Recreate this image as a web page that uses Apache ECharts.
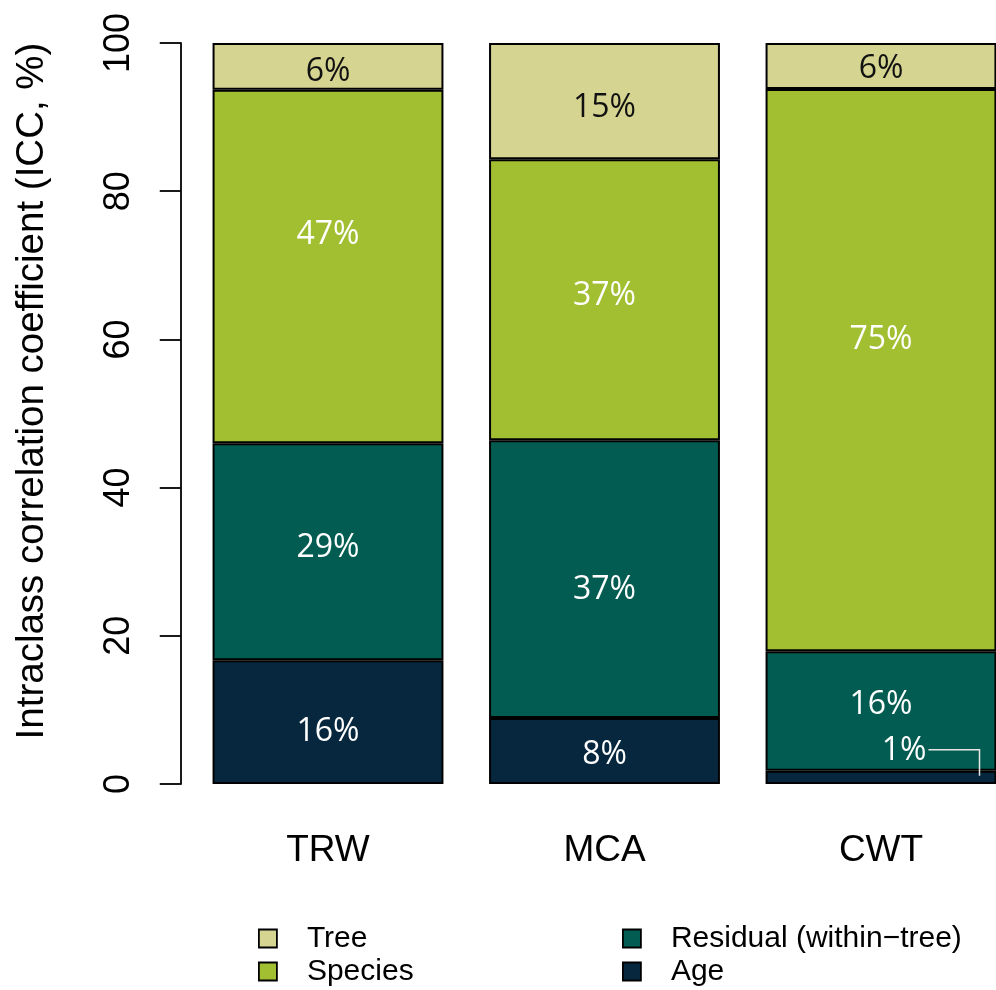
<!DOCTYPE html>
<html>
<head>
<meta charset="utf-8">
<script src="https://cdn.jsdelivr.net/npm/echarts@6/dist/echarts.min.js"></script>
<style>
  html, body { margin: 0; padding: 0; background: #ffffff; }
  #chart { width: 996px; height: 990px; }
</style>
</head>
<body>
<div id="chart"></div>
<script>
// Variance components (ICC, %) per wood trait, stacked bottom to top
const categories = ['TRW', 'MCA', 'CWT'];
const ageValues = [16.7, 8.9, 1.8];
const residualValues = [29.3, 37.5, 16.1];
const speciesValues = [47.7, 37.9, 75.9];
const treeValues = [6.3, 15.7, 6.2];
const yTicks = [0, 20, 40, 60, 80, 100];

const AXIS_FONT = 'Liberation Sans, Arial, sans-serif';
const LABEL_FONT = 'Open Sans, Noto Sans, sans-serif';

// vertical nudges (px) for the in-bar percentage labels
const labelShift = {
  Age: [10, 4, 0],
  Residual: [-4, 11, -6],
  Species: [-32, -4, -30],
  Tree: [6, 7, 3]
};

const layers = [
  { key: 'Age', name: 'Age', values: ageValues, color: '#07273e', text: '#ffffff' },
  { key: 'Residual', name: 'Residual (within\u2212tree)', values: residualValues, color: '#035c51', text: '#ffffff' },
  { key: 'Species', name: 'Species', values: speciesValues, color: '#a2bf32', text: '#ffffff' },
  { key: 'Tree', name: 'Tree', values: treeValues, color: '#d5d490', text: '#111111' }
];

const pct = v => Math.floor(v) + '%';

const series = layers.map(layer => ({
  name: layer.name,
  type: 'bar',
  stack: 'icc',
  barCategoryGap: '16.5%',
  itemStyle: { color: layer.color, borderColor: '#000000', borderWidth: 2 },
  label: {
    show: true,
    position: 'inside',
    color: layer.text,
    fontFamily: LABEL_FONT,
    fontSize: 32,
    formatter: p => pct(p.value)
  },
  emphasis: { disabled: true },
  data: layer.values.map((v, i) => {
    const item = { value: v, label: { offset: [0, labelShift[layer.key][i]] } };
    // the thin CWT age slice gets its label moved up with a leader line
    if (layer.key === 'Age' && categories[i] === 'CWT') item.label.offset = [23, -26];
    return item;
  })
}));

const legendCommon = {
  orient: 'vertical',
  top: 922,
  padding: 0,
  icon: 'rect',
  itemWidth: 18,
  itemHeight: 18,
  itemGap: 0,
  selectedMode: false,
  itemStyle: { borderColor: '#000000', borderWidth: 1.8 },
  textStyle: { fontFamily: AXIS_FONT, fontSize: 30, lineHeight: 33, color: '#000000', padding: [0, 0, 0, 25] }
};

const titleText = {
  type: 'text',
  x: 32,
  y: 391,
  rotation: Math.PI / 2,
  style: {
    text: 'Intraclass correlation coefficient (ICC, %)',
    fontFamily: AXIS_FONT,
    fontSize: 38.5,
    fill: '#000000',
    align: 'center',
    verticalAlign: 'middle'
  }
};

const chart = echarts.init(document.getElementById('chart'), null, { renderer: 'canvas' });

chart.setOption({
  backgroundColor: '#ffffff',
  animation: false,
  grid: { left: 189.75, top: 43, width: 829.5, height: 741, containLabel: false, outerBoundsMode: 'none' },
  xAxis: {
    type: 'category',
    data: categories,
    axisLine: { show: false },
    axisTick: { show: false },
    axisLabel: { margin: 48, fontFamily: AXIS_FONT, fontSize: 37, color: '#000000' }
  },
  yAxis: {
    type: 'value',
    min: yTicks[0],
    max: yTicks[yTicks.length - 1],
    interval: yTicks[1] - yTicks[0],
    offset: 9,
    splitLine: { show: false },
    axisLine: { show: true, lineStyle: { color: '#000000', width: 1.8 } },
    axisTick: { show: true, length: 21, lineStyle: { color: '#000000', width: 1.8 } },
    axisLabel: { rotate: 90, margin: 44, fontFamily: AXIS_FONT, fontSize: 36, color: '#000000' }
  },
  legend: [
    Object.assign({ left: 258, data: ['Tree', 'Species'] }, legendCommon),
    Object.assign({ left: 622, data: ['Residual (within\u2212tree)', 'Age'] }, legendCommon)
  ],
  series: series,
  graphic: [titleText]
});

// leader line from the "1%" label down into the CWT age slice
const cwt = categories.indexOf('CWT');
const anchor = chart.convertToPixel({ gridIndex: 0 }, [cwt, ageValues[cwt] / 2]);
chart.setOption({
  graphic: [titleText, {
    type: 'polyline',
    silent: true,
    z: 10,
    shape: {
      points: [
        [anchor[0] + 47.5, anchor[1] - 27.5],
        [anchor[0] + 98.5, anchor[1] - 27.5],
        [anchor[0] + 98.5, anchor[1] - 1.5]
      ]
    },
    style: { stroke: '#e6e6e6', lineWidth: 1.5, fill: null }
  }]
});
</script>
</body>
</html>
